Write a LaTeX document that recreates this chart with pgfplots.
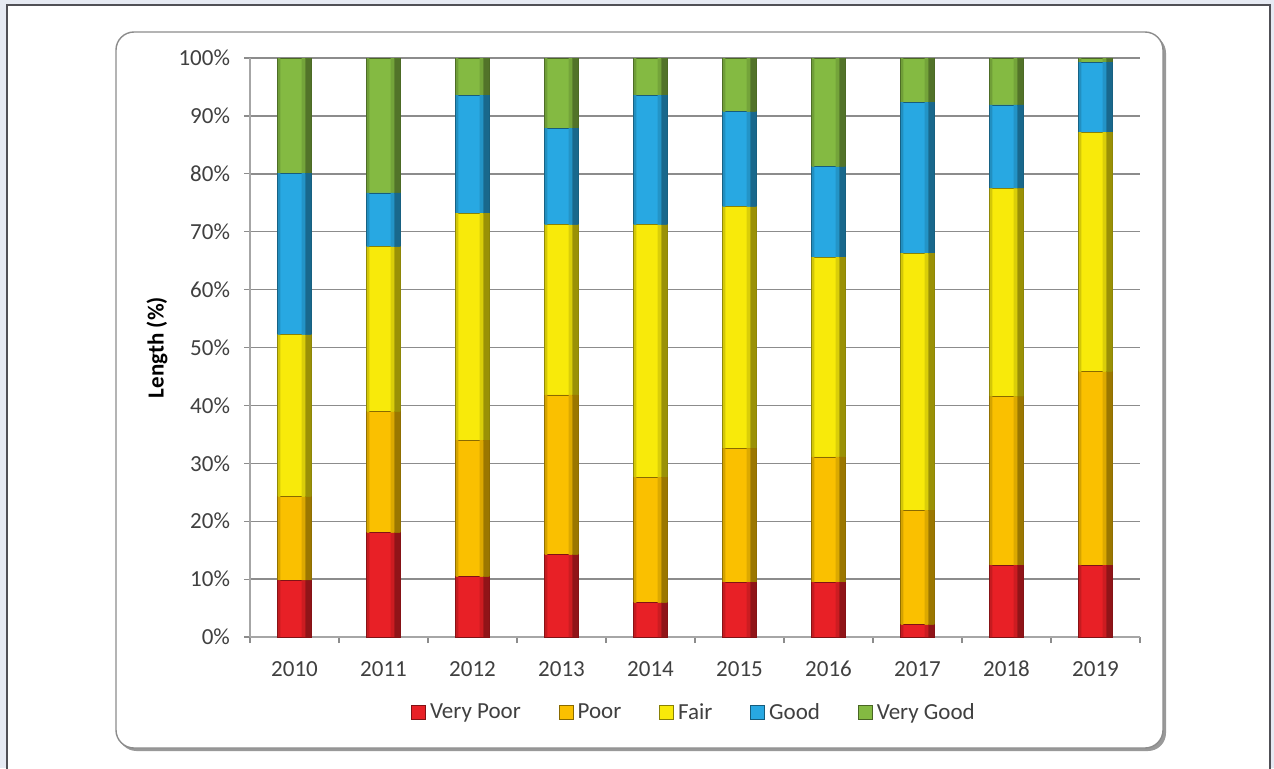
\documentclass[border=0pt]{standalone}
\usepackage{fontspec}
\setmainfont{Carlito}
\usepackage{pgfplots}
\usepackage{pgfplotstable}
\pgfplotsset{compat=1.18}

\definecolor{pagebg}{RGB}{230,234,243}
\definecolor{framegray}{RGB}{80,80,86}
\definecolor{txt}{RGB}{64,64,64}
\definecolor{cvpoor}{RGB}{232,32,38}
\definecolor{cpoor}{RGB}{250,192,0}
\definecolor{cfair}{RGB}{248,234,10}
\definecolor{cgood}{RGB}{40,168,226}
\definecolor{cvgood}{RGB}{132,186,66}

% Share of network length in each condition class, per year (%)
\pgfplotstableread{
x VP   P    F    G    VG
0 9.8  14.4 28.0 27.9 19.9
1 18.0 20.9 28.5 9.3  23.3
2 10.4 23.6 39.2 20.4 6.4
3 14.2 27.6 29.4 16.7 12.1
4 5.9  21.7 43.6 22.4 6.4
5 9.5  23.1 41.7 16.4 9.3
6 9.5  21.6 34.5 15.6 18.8
7 2.1  19.8 44.4 26.1 7.6
8 12.4 29.1 36.0 14.4 8.1
9 12.4 33.4 41.4 12.1 0.7
}\condition

\pgfplotsset{
  chartgeom/.style={
    at={(0,0)}, anchor=south west,
    scale only axis, width=445pt, height=289.5pt,
    xmin=-0.5, xmax=9.5, ymin=0, ymax=100,
    ybar stacked,
  }
}

% darker vertical strips laid over the bars to give them a rounded look
\newcommand\strips[3]{%
\begin{axis}[chartgeom, hide axis, bar width=#1, bar shift=#2]
\addplot[fill=cvpoor!#3!black, draw=none] table[x=x,y=VP]{\condition};
\addplot[fill=cpoor!#3!black, draw=none] table[x=x,y=P]{\condition};
\addplot[fill=cfair!#3!black, draw=none] table[x=x,y=F]{\condition};
\addplot[fill=cgood!#3!black, draw=none] table[x=x,y=G]{\condition};
\addplot[fill=cvgood!#3!black, draw=none] table[x=x,y=VG]{\condition};
\end{axis}}

\begin{document}
\begin{tikzpicture}
\fontsize{11.5}{13.8}\selectfont
\useasboundingbox (-125pt,-65.5pt) rectangle (512pt,318.5pt);
% page background and outer frame
\fill[pagebg] (-125pt,-65.5pt) rectangle (512pt,318.5pt);
\filldraw[fill=white, draw=framegray, line width=1pt] (-121.5pt,-70pt) rectangle (510pt,316pt);
% chart area with shadow
\fill[black!40, rounded corners=9pt] (-65.8pt,-57pt) rectangle (458pt,301pt);
\filldraw[fill=white, draw=black!45, line width=0.7pt, rounded corners=9pt] (-67pt,-55.5pt) rectangle (456.5pt,302.5pt);

\begin{axis}[
  chartgeom,
  bar width=17pt,
  xtick={0,...,9},
  xticklabels={2010,2011,2012,2013,2014,2015,2016,2017,2018,2019},
  minor xtick={-0.5,0.5,...,9.5},
  major x tick style={draw=none},
  ytick={0,10,...,100},
  yticklabel={\pgfmathprintnumber{\tick}\%},
  /pgf/number format/assume math mode=true,
  tick align=outside,
  major tick length=3pt, minor tick length=3pt,
  tick style={black!45, line width=0.6pt},
  axis x line*=bottom, axis y line*=left,
  axis line style={black!35, line width=0.6pt},
  ymajorgrids,
  grid style={black!45, line width=0.7pt},
  ticklabel style={text=txt, font=\fontsize{11.5}{13.8}\selectfont},
  xticklabel style={yshift=-5pt},
  yticklabel style={xshift=-3pt},
  ylabel={\textbf{Length (\%)}},
  ylabel style={at={(axis description cs:-0.1045,0.5)}, anchor=center, font=\fontsize{11.5}{13.8}\selectfont},
  legend style={at={(0.5,-0.131)}, anchor=center, draw=none, fill=none,
    legend columns=-1, font=\fontsize{11.5}{13.8}\selectfont, text=txt,
    /tikz/every even column/.append style={column sep=17pt},
    inner sep=0pt},
  legend image code/.code={\draw[#1] (0pt,-3.5pt) rectangle (7pt,3.5pt);},
]
\addplot[fill=cvpoor, draw=cvpoor!55!black, line width=0.4pt] table[x=x,y=VP]{\condition};
\addplot[fill=cpoor, draw=cpoor!55!black, line width=0.4pt] table[x=x,y=P]{\condition};
\addplot[fill=cfair, draw=cfair!55!black, line width=0.4pt] table[x=x,y=F]{\condition};
\addplot[fill=cgood, draw=cgood!55!black, line width=0.4pt] table[x=x,y=G]{\condition};
\addplot[fill=cvgood, draw=cvgood!55!black, line width=0.4pt] table[x=x,y=VG]{\condition};
\legend{Very Poor,Poor,Fair,Good,Very Good}
\end{axis}
\strips{1.2pt}{-7.7pt}{85}
\strips{2pt}{4.5pt}{88}
\strips{3pt}{6.9pt}{62}
\end{tikzpicture}
\end{document}
